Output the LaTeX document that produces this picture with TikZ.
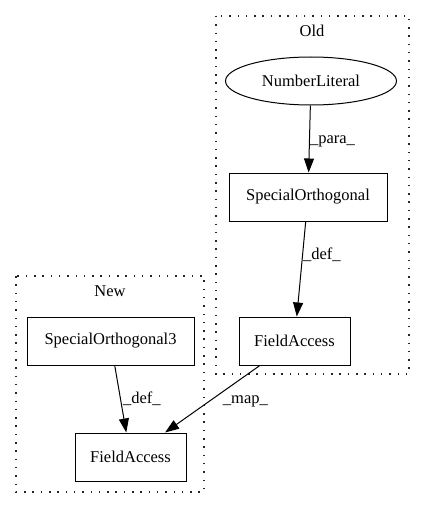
\documentclass[tikz,border=0pt]{standalone}
\usepackage{fontspec}
\setmainfont{Liberation Serif}
\usetikzlibrary{arrows.meta, shapes.geometric}

\tikzset{
	box/.style={draw, line width=1pt, minimum height=48pt, inner sep=0pt, font=\fontsize{16.5}{19}\selectfont},
	oval/.style={draw, ellipse, line width=1pt, minimum width=171pt, minimum height=48pt, inner sep=0pt, font=\fontsize{16.5}{19}\selectfont},
	cluster/.style={draw=black!85, dash pattern=on 1.5pt off 6.8pt, line width=1.2pt},
	lbl/.style={font=\fontsize{16.5}{19}\selectfont},
	link/.style={->, >={Triangle[length=14pt,width=10pt]}, line width=1pt}
}

\begin{document}
\begin{tikzpicture}[x=1pt, y=-1pt]
		\useasboundingbox (0, 0) rectangle (424, 508);

		\draw[cluster] (216, 16) rectangle (409, 374);
		\draw[cluster] (16, 276) rectangle (204, 492);
		\node[lbl] at (312, 31) (old) {Old};
		\node[lbl] at (110, 291) (new) {New};

		\node[oval] at (311, 81) (nl) {NumberLiteral};
		\node[box, minimum width=158pt] at (308, 197) (so) {SpecialOrthogonal};
		\node[box, minimum width=111pt] at (294.5, 341) (fa1) {FieldAccess};

		\node[box, minimum width=167pt] at (110.5, 341) (so3) {SpecialOrthogonal3};
		\node[box, minimum width=111pt] at (130.5, 457) (fa2) {FieldAccess};

		\draw[link] (nl) -- (so) node[lbl, midway, anchor=west, inner sep=0pt, yshift=-2pt] {\_para\_};
		\draw[link] (so) -- (fa1) node[lbl, pos=0.35, anchor=west, inner sep=0pt] {\_def\_};
		\draw[link] (so3) -- (fa2) node[lbl, midway, anchor=west, inner sep=0pt, xshift=2pt] {\_def\_};
		\draw[link] (fa1) -- (fa2) node[lbl, midway, anchor=west, inner sep=0pt, xshift=10pt, yshift=-2pt] {\_map\_};
	\end{tikzpicture}
\end{document}
